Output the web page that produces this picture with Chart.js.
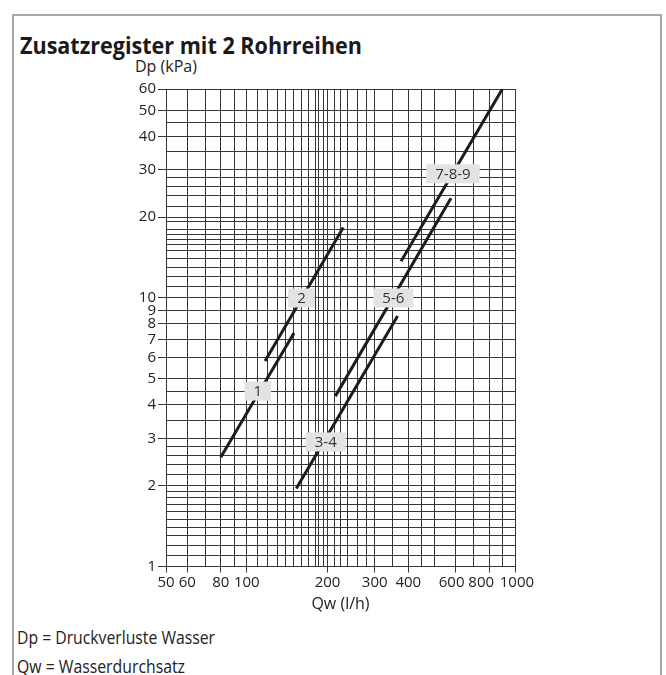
<!DOCTYPE html>
<html><head><meta charset="utf-8">
<script src="https://cdn.jsdelivr.net/npm/chart.js@4.4.1/dist/chart.umd.min.js"></script>
<style>
html,body{margin:0;padding:0;background:#fff;}
body{width:666px;height:675px;position:relative;overflow:hidden;font-family:"Open Sans",sans-serif;color:#222;}
#frame{position:absolute;left:12px;top:14px;width:650px;height:720px;border:2px solid #a8a8a8;box-sizing:border-box;}
.t{position:absolute;white-space:nowrap;line-height:1;transform-origin:0 50%;}
#title{left:20px;top:33px;font-weight:700;font-size:24px;color:#1a1a1a;}
#ylab{left:135px;top:58px;font-size:16px;}
.foot{left:17px;font-size:18px;}
#f1{top:628px;}
#f2{top:657px;}
#c{position:absolute;left:0;top:0;}
</style></head>
<body>
<div id="frame"></div>
<div class="t" id="title">Zusatzregister mit 2 Rohrreihen</div>
<div class="t" id="ylab">Dp (kPa)</div>
<div class="t foot" id="f1">Dp = Druckverluste Wasser</div>
<div class="t foot" id="f2">Qw = Wasserdurchsatz</div>
<canvas id="c" width="666" height="675"></canvas>
<script>
// ---- data ----
const curveNames = ['1', '2', '3-4', '5-6', '7-8-9'];
const flowStart = [80, 117, 153, 214, 376];
const flowEnd   = [150, 229, 365, 577, 897];
const dpStart   = [2.55, 5.83, 1.95, 4.31, 13.7];
const dpEnd     = [7.4, 18.3, 8.57, 23.5, 60];
const labelFlow = [110, 160, 197, 352, 587];
const labelDp   = [4.5, 10, 2.91, 10, 29];
const xTickLabels = [50, 60, 80, 100, 200, 300, 400, 600, 800, 1000];
const yTickLabels = [1, 2, 3, 4, 5, 6, 7, 8, 9, 10, 20, 30, 40, 50, 60];
const xGridValues = [50, 60, 70, 80, 90, 100, 110, 120, 130, 140, 150, 160, 170, 180, 185, 193, 200, 212, 224, 238, 259, 280, 300, 350, 400, 450, 500, 600, 700, 800, 900, 1000];
const yGridValues = [1, 1.1, 1.2, 1.3, 1.4, 1.5, 1.6, 1.7, 1.8, 1.9, 2, 2.2, 2.4, 2.6, 2.8, 3, 3.5, 4, 4.5, 5, 6, 7, 8, 9, 10, 11, 12, 13, 14, 15, 15.8, 16.5, 17.3, 18, 19.2, 20, 22, 24, 26, 28, 30, 35, 40, 45, 50, 60];

// condense HTML text to the reference widths
function fit(id, w) {
  const el = document.getElementById(id);
  el.style.transform = 'scaleX(' + (w / el.getBoundingClientRect().width) + ')';
}
fit('title', 342); fit('f1', 198); fit('f2', 168);

const datasets = curveNames.map((n, i) => ({
  label: n,
  data: [{x: flowStart[i], y: dpStart[i]}, {x: flowEnd[i], y: dpEnd[i]}],
  showLine: true,
  borderColor: '#1c1c1c',
  borderWidth: 3,
  pointRadius: 0,
  borderCapStyle: 'butt'
}));

const GRID = '#363636';
const tickFont = {family: 'Open Sans', size: 15};
// crowded labels at the right end are nudged like in the reference
const xLabelText = v => {
  if (v === 600) return '600  ';
  if (v === 800) return '800    ';
  if (v === 1000) return ' 1000';
  return String(v);
};

const labelPlugin = {
  id: 'curveLabels',
  afterDatasetsDraw(chart) {
    const {ctx, scales: {x, y}} = chart;
    ctx.save();
    ctx.font = '15px "Open Sans"';
    ctx.textAlign = 'center';
    ctx.textBaseline = 'middle';
    curveNames.forEach((n, i) => {
      const px = x.getPixelForValue(labelFlow[i]);
      const py = y.getPixelForValue(labelDp[i]);
      const w = ctx.measureText(n).width + 18;
      const h = 19;
      ctx.fillStyle = '#e3e3e3';
      ctx.fillRect(px - w / 2, py - h / 2, w, h);
      ctx.fillStyle = '#333';
      ctx.fillText(n, px, py + 1);
    });
    ctx.restore();
  }
};

new Chart(document.getElementById('c'), {
  type: 'scatter',
  data: {datasets},
  plugins: [labelPlugin],
  options: {
    responsive: false,
    animation: false,
    layout: {padding: {left: 0, top: 89, right: 151, bottom: 48.5}},
    plugins: {legend: {display: false}, tooltip: {enabled: false}},
    scales: {
      x: {
        type: 'logarithmic', min: 50, max: 1000, position: 'bottom',
        afterBuildTicks: s => { s.ticks = xGridValues.map(v => ({value: v})); },
        afterFit: s => { s.height = 60; },
        ticks: {
          autoSkip: false, maxRotation: 0, minRotation: 0, padding: 1,
          font: tickFont, color: '#222',
          callback: v => xTickLabels.includes(v) ? xLabelText(v) : ''
        },
        grid: {
          color: GRID, lineWidth: 1, tickLength: 6,
          tickColor: c => (c.tick && xTickLabels.includes(c.tick.value)) ? GRID : 'rgba(0,0,0,0)'
        },
        border: {display: true, color: GRID},
        title: {display: true, text: 'Qw (l/h)', font: {family: 'Open Sans', size: 16}, color: '#222', padding: {top: 0, bottom: 12}}
      },
      y: {
        type: 'logarithmic', min: 1, max: 60, position: 'left',
        afterBuildTicks: s => { s.ticks = yGridValues.map(v => ({value: v})); },
        afterFit: s => { s.width = 166; },
        ticks: {
          autoSkip: false, padding: 2,
          font: tickFont, color: '#222',
          callback: v => yTickLabels.includes(v) ? String(v) : ''
        },
        grid: {
          color: GRID, lineWidth: 1, tickLength: 8,
          tickColor: c => (c.tick && yTickLabels.includes(c.tick.value)) ? GRID : 'rgba(0,0,0,0)'
        },
        border: {display: true, color: GRID}
      }
    }
  }
});
</script>
</body></html>
